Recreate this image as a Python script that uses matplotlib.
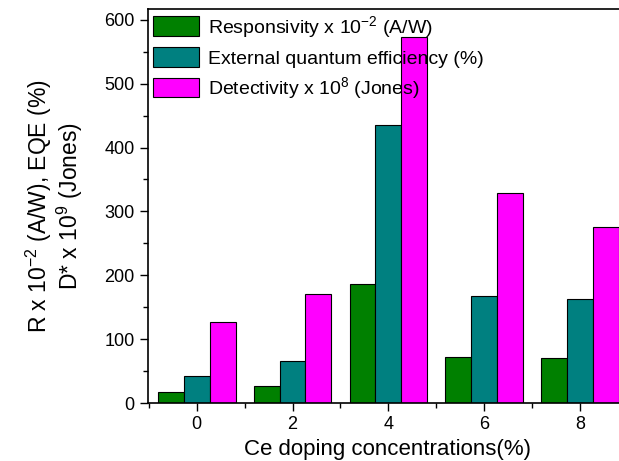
import matplotlib
matplotlib.use("Agg")
import matplotlib.pyplot as plt
import numpy as np
from matplotlib.ticker import MultipleLocator

plt.rcParams['font.family'] = ['Liberation Sans', 'DejaVu Sans']
plt.rcParams['mathtext.fontset'] = 'custom'
plt.rcParams['mathtext.rm'] = 'Liberation Sans'
plt.rcParams['mathtext.it'] = 'Liberation Sans'

concentrations = [0, 2, 4, 6, 8]
responsivity = [18, 27, 187, 72, 70]
eqe = [42, 65, 436, 168, 163]
detectivity = [127, 170, 573, 329, 275]
labels = ["Responsivity x 10$^{-2}$ (A/W)", "External quantum efficiency (%)",
          "Detectivity x 10$^{8}$ (Jones)"]
colors = ["#008000", "#008080", "#FF00FF"]

fig = plt.figure(figsize=(6.19, 4.61), dpi=100)
ax = fig.add_axes([0.239, 0.1258, 0.775, 0.8547])
x = np.array(concentrations, dtype=float)
w = 0.54
for i, (vals, lab, c) in enumerate(zip([responsivity, eqe, detectivity], labels, colors)):
    ax.bar(x + (i - 1) * w, vals, width=w, color=c, edgecolor='black', linewidth=0.8, label=lab)

ax.set_xlim(-1.02, 9.0)
ax.set_ylim(0, 617)
ax.xaxis.set_major_locator(MultipleLocator(2))
ax.xaxis.set_minor_locator(MultipleLocator(1))
ax.yaxis.set_major_locator(MultipleLocator(100))
ax.yaxis.set_minor_locator(MultipleLocator(50))
ax.tick_params(which='major', direction='out', length=6, width=1, labelsize=13)
ax.tick_params(which='minor', direction='out', length=3.5, width=1)
for s in ax.spines.values():
    s.set_linewidth(1.2)
ax.spines['right'].set_visible(False)

ax.set_xlabel("Ce doping concentrations(%)", fontsize=16, labelpad=4)
ax.set_ylabel("R x 10$^{-2}$ (A/W), EQE (%)\nD* x 10$^{9}$ (Jones)", fontsize=16.5, labelpad=14,
              linespacing=1.05)

ax.legend(loc='upper left', frameon=False, fontsize=14, handlelength=2.4, handleheight=1.2,
          borderaxespad=0.15, borderpad=0.1, labelspacing=0.38, handletextpad=0.45)

fig.savefig("out.png", dpi=100)
